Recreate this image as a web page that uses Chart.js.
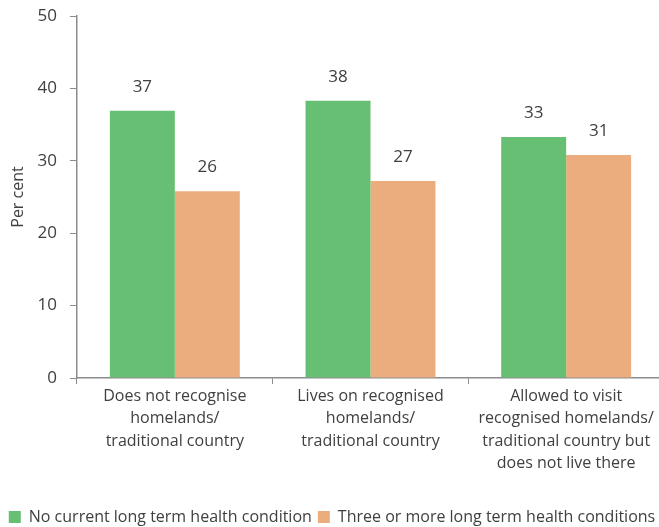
<!DOCTYPE html>
<html>
<head>
<meta charset="utf-8">
<script src="https://cdn.jsdelivr.net/npm/chart.js@4.4.1/dist/chart.umd.min.js"></script>
<style>
  html, body { margin:0; padding:0; background:#fff; overflow:hidden; }
  #wrap { width:664px; height:527px; }
</style>
</head>
<body>
<div id="wrap"><canvas id="chart" width="664" height="527"></canvas></div>
<script>
const categories = [
  ['Does not recognise', 'homelands/', 'traditional country'],
  ['Lives on recognised', 'homelands/', 'traditional country'],
  ['Allowed to visit', 'recognised homelands/', 'traditional country but', 'does not live there']
];
const seriesNames = ['No current long term health condition', 'Three or more long term health conditions'];
const noCondition = [36.9, 38.3, 33.3];
const threeOrMore = [25.8, 27.2, 30.8];
const yTicks = [0, 10, 20, 30, 40, 50];

const textColor = '#404040';
const axisColor = '#8c8c8c';
const fontFamily = '"Open Sans", sans-serif';

// value labels above each bar
const barLabels = {
  id: 'barLabels',
  afterDatasetsDraw(chart){
    const ctx = chart.ctx;
    ctx.save();
    ctx.fillStyle = textColor;
    ctx.font = '17px ' + fontFamily;
    ctx.textAlign = 'center';
    ctx.textBaseline = 'middle';
    chart.data.datasets.forEach((ds, i) => {
      chart.getDatasetMeta(i).data.forEach((bar, j) => {
        ctx.fillText(Math.round(ds.data[j]), bar.x, bar.y - 24);
      });
    });
    ctx.restore();
  }
};

new Chart(document.getElementById('chart'), {
  type: 'bar',
  data: {
    labels: categories,
    datasets: [
      { label: seriesNames[0], data: noCondition, backgroundColor: '#66bf72' },
      { label: seriesNames[1], data: threeOrMore, backgroundColor: '#ebad7e' }
    ]
  },
  options: {
    responsive: false,
    animation: false,
    devicePixelRatio: 1,
    layout: { padding: { top: 16, right: 0, left: 0, bottom: -8 } },
    datasets: { bar: { categoryPercentage: 0.664, barPercentage: 1 } },
    plugins: {
      legend: {
        position: 'bottom',
        labels: { color: textColor, font: { family: fontFamily, size: 16 }, boxWidth: 12, boxHeight: 12, padding: 6 }
      },
      tooltip: { enabled: false }
    },
    scales: {
      x: {
        grid: { display: true, drawOnChartArea: false, drawTicks: true, tickLength: 6, color: axisColor, offset: true },
        border: { color: axisColor, width: 1.5 },
        ticks: { color: textColor, font: { family: fontFamily, size: 16, lineHeight: '22.5px' }, maxRotation: 0, autoSkip: false, padding: 1 },
        afterFit(scale){ scale.height = 125; }
      },
      y: {
        min: 0, max: 50,
        afterBuildTicks(scale){ scale.ticks = yTicks.map(v => ({ value: v })); },
        grid: { display: true, drawOnChartArea: false, drawTicks: true, tickLength: 7, color: axisColor },
        border: { color: axisColor, width: 1.5 },
        ticks: { color: textColor, font: { family: fontFamily, size: 17 }, padding: 13 },
        title: { display: true, text: 'Per cent', color: textColor, font: { family: fontFamily, size: 16 }, padding: { top: 9, bottom: 0 } },
        afterFit(scale){ scale.width = 77; scale.paddingTop = 0; scale.paddingBottom = 0; }
      }
    }
  },
  plugins: [barLabels]
});
</script>
</body>
</html>
